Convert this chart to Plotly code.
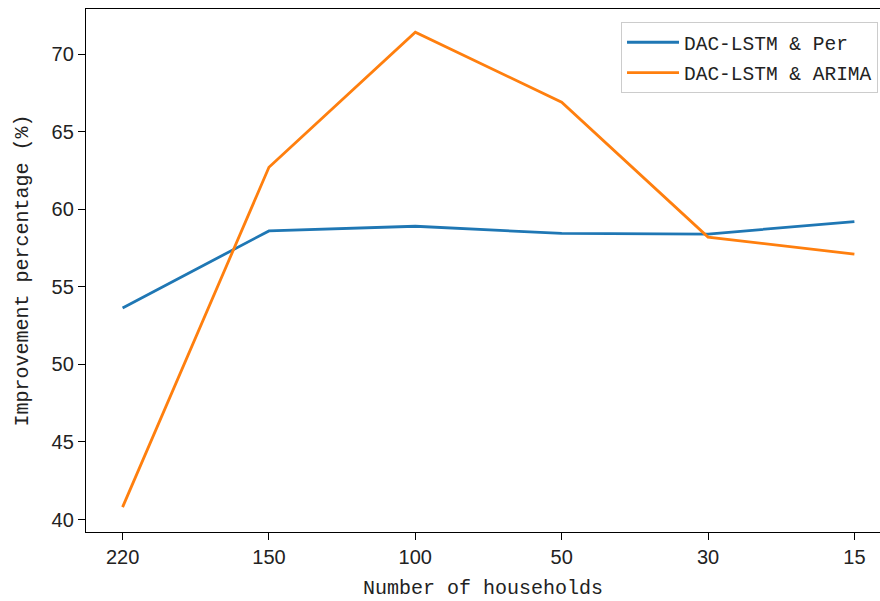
import plotly.graph_objects as go

# Number of households (categorical x axis, plotted in this order)
households = ["220", "150", "100", "50", "30", "15"]

# Improvement percentage (%) of DAC-LSTM over each baseline
improve_per = [53.64, 58.6, 58.9, 58.44, 58.4, 59.2]
improve_arima = [40.8, 62.7, 71.4, 66.9, 58.2, 57.1]

series_names = ["DAC-LSTM & Per", "DAC-LSTM & ARIMA"]
series_colors = ["#1f77b4", "#ff7f0e"]

mono = "Liberation Mono, DejaVu Sans Mono, monospace"
sans = "Liberation Sans, Arial, sans-serif"

fig = go.Figure()
for i, (name, vals) in enumerate(zip(series_names, [improve_per, improve_arima])):
    fig.add_trace(go.Scatter(
        x=households, y=vals, mode="lines", name=name,
        legendgroup=f"g{i}",
        line=dict(color=series_colors[i], width=2.8),
    ))

axis_common = dict(
    showline=True, linecolor="#000000", linewidth=1.4,
    ticks="outside", ticklen=7, tickwidth=1.3, tickcolor="#000000",
    showgrid=False, zeroline=False,
    tickfont=dict(family=sans, size=20, color="#222222"),
)

fig.update_xaxes(
    type="category", range=[-0.25, 5.175], mirror=True,
    title=dict(text="Number of households",
               font=dict(family=mono, size=20, color="#222222"), standoff=12),
    **axis_common,
)
fig.update_yaxes(
    range=[39.2, 72.9], dtick=5, tick0=40, mirror=False,
    title=dict(text="Improvement percentage (%)",
               font=dict(family=mono, size=20, color="#222222"), standoff=17),
    **axis_common,
)

fig.update_layout(
    width=880, height=601,
    margin=dict(l=86, r=0, t=9, b=69),
    paper_bgcolor="white", plot_bgcolor="white",
    showlegend=True,
    legend=dict(
        x=0.9975, y=0.975, xanchor="right", yanchor="top",
        bgcolor="rgba(255,255,255,0.85)", bordercolor="#cccccc", borderwidth=1,
        font=dict(family=mono, size=19.5, color="#222222"),
        tracegroupgap=2, traceorder="grouped",
        itemwidth=52, entrywidth=292,
    ),
)

fig.write_html("out.html")
